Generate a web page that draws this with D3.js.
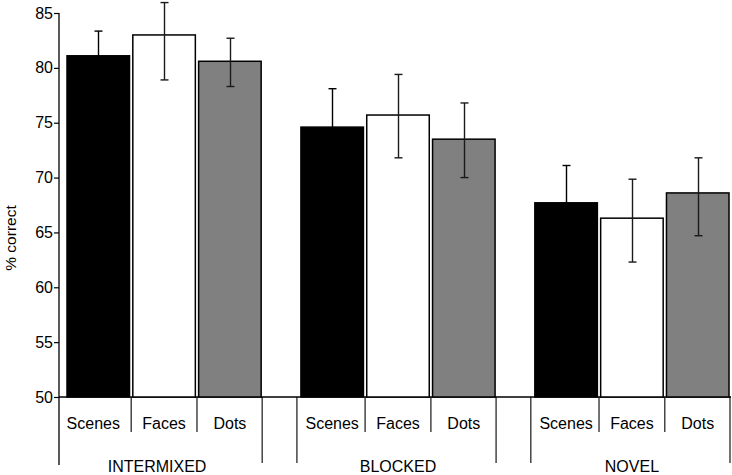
<!DOCTYPE html>
<html>
<head>
<meta charset="utf-8">
<script src="https://cdn.jsdelivr.net/npm/d3@7"></script>
<style>
  html, body { margin: 0; padding: 0; background: #fff; }
  svg { display: block; }
  text { font-family: "Liberation Sans", Arial, sans-serif; fill: #000; }
</style>
</head>
<body>
<svg id="chart" width="732" height="475"></svg>
<script>
// ---- data ----
const groups = ["INTERMIXED", "BLOCKED", "NOVEL"];
const conditions = ["Scenes", "Faces", "Dots"];
const scenesMean = [81.1, 74.6, 67.7];
const facesMean  = [83.0, 75.7, 66.3];
const dotsMean   = [80.6, 73.5, 68.6];
const scenesHi = [83.35, 78.1, 71.1];
const scenesLo = [78.85, 71.1, 64.3];
const facesHi  = [85.95, 79.4, 69.85];
const facesLo  = [78.9, 71.8, 62.3];
const dotsHi   = [82.7, 76.8, 71.8];
const dotsLo   = [78.3, 70.0, 64.7];
const yTicks = [50, 55, 60, 65, 70, 75, 80, 85];
const fills = ["#000000", "#ffffff", "#808080"];

const means = [scenesMean, facesMean, dotsMean];
const his = [scenesHi, facesHi, dotsHi];
const los = [scenesLo, facesLo, dotsLo];

const rows = [];
groups.forEach((g, gi) => {
  conditions.forEach((c, ci) => {
    rows.push({ group: g, cond: c, ci, mean: means[ci][gi], hi: his[ci][gi], lo: los[ci][gi] });
  });
});

// ---- layout ----
const svg = d3.select("#chart");
const axisX = 59, baseY = 397, topY = 13;

const y = d3.scaleLinear().domain([50, 85]).range([baseY, topY]);
const xg = d3.scaleBand().domain(groups).range([67, 729]).paddingInner(0.17).paddingOuter(0);
const xc = d3.scaleBand().domain(conditions).range([0, xg.bandwidth()]).paddingInner(0.05).paddingOuter(0);

// y axis
const yAxis = d3.axisLeft(y).tickValues(yTicks).tickSize(5).tickSizeOuter(0).tickPadding(1);
const ag = svg.append("g").attr("transform", `translate(${axisX},0)`).call(yAxis);
ag.select(".domain").remove();
ag.selectAll(".tick line").attr("stroke", "#000").attr("stroke-width", 1.2);
ag.selectAll(".tick text").style("font-size", "16px").attr("font-family", "Liberation Sans, Arial, sans-serif");

// vertical axis line (extended down into category area)
svg.append("line").attr("x1", axisX).attr("x2", axisX).attr("y1", topY).attr("y2", 465)
  .attr("stroke", "#000").attr("stroke-width", 1.3);

// baseline
svg.append("line").attr("x1", axisX).attr("x2", 731).attr("y1", baseY).attr("y2", baseY)
  .attr("stroke", "#000").attr("stroke-width", 1.3);

// bars
svg.append("g").selectAll("rect").data(rows).join("rect")
  .attr("x", d => xg(d.group) + xc(d.cond))
  .attr("width", xc.bandwidth())
  .attr("y", d => y(d.mean))
  .attr("height", d => y(50) - y(d.mean))
  .attr("fill", d => fills[d.ci])
  .attr("stroke", "#000")
  .attr("stroke-width", 1.5);

// error bars
const eb = svg.append("g").attr("stroke-width", 1.4);
rows.forEach(d => {
  const cx = Math.round(xg(d.group) + xc(d.cond) + xc.bandwidth() / 2) + 0.5;
  const col = d.ci === 0 ? "#000" : "#1a1a1a";
  eb.append("line").attr("stroke", col).attr("x1", cx).attr("x2", cx).attr("y1", y(d.hi)).attr("y2", y(d.lo));
  eb.append("line").attr("stroke", col).attr("x1", cx - 4).attr("x2", cx + 4).attr("y1", y(d.hi)).attr("y2", y(d.hi));
  eb.append("line").attr("stroke", col).attr("x1", cx - 4).attr("x2", cx + 4).attr("y1", y(d.lo)).attr("y2", y(d.lo));
});

// category separators
const sep = svg.append("g").attr("stroke", "#000").attr("stroke-width", 1.1);
groups.forEach((g, gi) => {
  const x0 = xg(g), x1 = xg(g) + xg.bandwidth();
  if (gi > 0) sep.append("line").attr("x1", x0 - 4).attr("x2", x0 - 4).attr("y1", baseY).attr("y2", 463);
  sep.append("line").attr("x1", x1 + 1).attr("x2", x1 + 1).attr("y1", baseY).attr("y2", 463);
  conditions.slice(1).forEach(c => {
    const xs = x0 + xc(c) - xc.step() * xc.paddingInner() / 2;
    sep.append("line").attr("x1", xs).attr("x2", xs).attr("y1", baseY).attr("y2", 432);
  });
});

// condition labels
svg.append("g").selectAll("text").data(rows).join("text")
  .attr("x", d => xg(d.group) + xc(d.cond) + xc.bandwidth() / 2 - (d.group === groups[0] && d.ci === 0 ? 5 : 0))
  .attr("y", 429)
  .attr("text-anchor", "middle")
  .style("font-size", "16px")
  .text(d => d.cond);

// group labels
svg.append("g").selectAll("text").data(groups).join("text")
  .attr("x", g => xg(g) + xg.bandwidth() / 2 - (g === groups[0] ? 7 : 0))
  .attr("y", 472)
  .attr("text-anchor", "middle")
  .style("font-size", "16px")
  .text(g => g);

// y label
svg.append("text")
  .attr("transform", "translate(16,238) rotate(-90)")
  .attr("text-anchor", "middle")
  .style("font-size", "15.5px")
  .text("% correct");
</script>
</body>
</html>
